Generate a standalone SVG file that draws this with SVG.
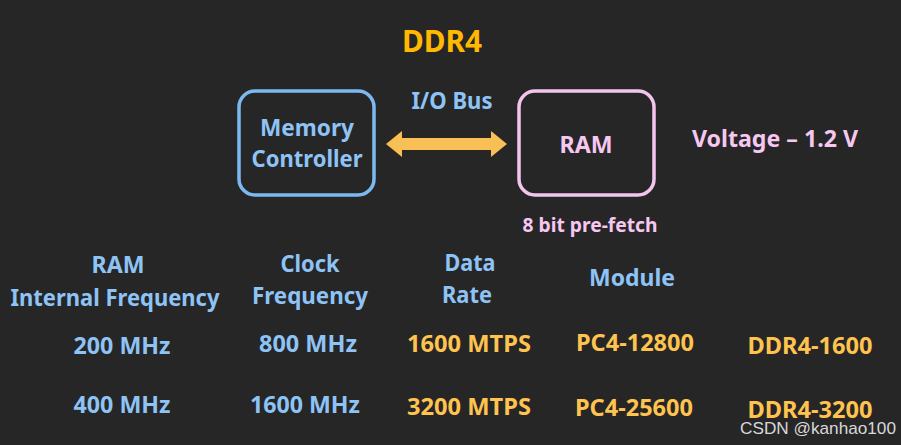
<svg xmlns="http://www.w3.org/2000/svg" width="901" height="445" viewBox="0 0 901 445">
<style>
text{font-family:"Noto Sans","Open Sans","DejaVu Sans",sans-serif;font-weight:bold;text-anchor:middle}
.b{fill:#8EC3F6;font-size:23.5px}
.o{fill:#FFC34F;font-size:23.5px}
.p{fill:#F6C8F1;font-size:23.5px}
.box{fill:none;stroke-width:3.5}
</style>
<rect width="901" height="445" fill="#262626"/>
<text x="442" y="52" style="fill:#FFB900;font-size:31px" textLength="80" lengthAdjust="spacingAndGlyphs">DDR4</text>
<g id="connectors">
<polygon points="386,144 402,131 402,138 491,138 491,131 507,144 491,157 491,150 402,150 402,157" fill="#F8BF55"/>
<text class="b" x="452" y="109" textLength="81" lengthAdjust="spacingAndGlyphs">I/O Bus</text>
</g>
<g id="memctrl">
<rect class="box" x="239" y="91" width="135" height="104" rx="16" stroke="#7DB9F1"/>
<text class="b" x="307" y="136" textLength="94" lengthAdjust="spacingAndGlyphs">Memory</text>
<text class="b" x="307" y="167" textLength="111" lengthAdjust="spacingAndGlyphs">Controller</text>
</g>
<g id="ram">
<rect class="box" x="519" y="91" width="135" height="104" rx="16" stroke="#F3C5EE"/>
<text class="p" x="586" y="153" textLength="53" lengthAdjust="spacingAndGlyphs">RAM</text>
<text class="p" x="590" y="232" style="font-size:20px" textLength="135" lengthAdjust="spacingAndGlyphs">8 bit pre-fetch</text>
</g>
<text class="p" x="775" y="147" textLength="166" lengthAdjust="spacingAndGlyphs">Voltage – 1.2 V</text>
<g id="table">
<text class="b" x="118" y="273" textLength="53" lengthAdjust="spacingAndGlyphs">RAM</text>
<text class="b" x="115" y="306" textLength="209" lengthAdjust="spacingAndGlyphs">Internal Frequency</text>
<text class="b" x="310" y="272" textLength="59" lengthAdjust="spacingAndGlyphs">Clock</text>
<text class="b" x="310" y="304" textLength="116" lengthAdjust="spacingAndGlyphs">Frequency</text>
<text class="b" x="470" y="271" textLength="51" lengthAdjust="spacingAndGlyphs">Data</text>
<text class="b" x="467" y="303" textLength="50" lengthAdjust="spacingAndGlyphs">Rate</text>
<text class="b" x="632" y="286" textLength="86" lengthAdjust="spacingAndGlyphs">Module</text>
<text class="b" x="122" y="354" textLength="97" lengthAdjust="spacingAndGlyphs">200 MHz</text>
<text class="b" x="308" y="352" textLength="98" lengthAdjust="spacingAndGlyphs">800 MHz</text>
<text class="o" x="469" y="352" textLength="124" lengthAdjust="spacingAndGlyphs">1600 MTPS</text>
<text class="o" x="635" y="351" textLength="118" lengthAdjust="spacingAndGlyphs">PC4-12800</text>
<text class="o" x="810" y="354" textLength="125" lengthAdjust="spacingAndGlyphs">DDR4-1600</text>
<text class="b" x="122" y="413" textLength="97" lengthAdjust="spacingAndGlyphs">400 MHz</text>
<text class="b" x="305" y="413" textLength="110" lengthAdjust="spacingAndGlyphs">1600 MHz</text>
<text class="o" x="469" y="415" textLength="124" lengthAdjust="spacingAndGlyphs">3200 MTPS</text>
<text class="o" x="634" y="416" textLength="118" lengthAdjust="spacingAndGlyphs">PC4-25600</text>
<text class="o" x="810" y="418" textLength="125" lengthAdjust="spacingAndGlyphs">DDR4-3200</text>
</g>
<text x="818" y="434" style="font-family:'Liberation Sans',Arial,sans-serif;font-weight:normal;font-size:17px;fill:#D8D8D8" textLength="156" lengthAdjust="spacingAndGlyphs">CSDN @kanhao100</text>
</svg>
